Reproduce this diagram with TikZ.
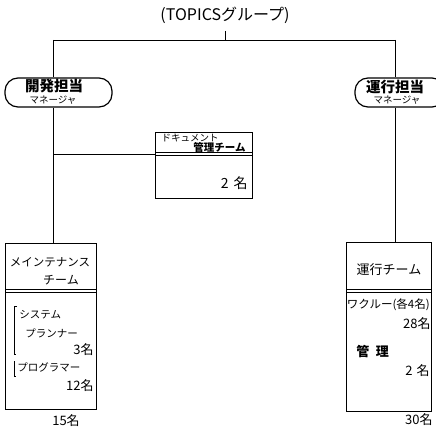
\documentclass[tikz,border=0pt]{standalone}
\usepackage{fontspec}
\setmainfont{Noto Sans CJK JP}
\begin{document}
\begin{tikzpicture}[x=1pt,y=-1pt,line width=0.9pt,
  txt/.style={inner sep=0pt,font=\fontsize{10.5}{12}\selectfont},
  big/.style={inner sep=0pt,font=\fontsize{13}{15}\selectfont},
  pilltop/.style={inner sep=0pt,font=\fontsize{14.5}{15}\selectfont\bfseries},
  pillbot/.style={inner sep=0pt,font=\fontsize{9.5}{10}\selectfont},
  pill/.style={draw,line width=1.2pt,rounded corners=13pt,inner sep=0pt},
  boxx/.style={draw,line width=1.1pt,inner sep=0pt,anchor=north west}]
\useasboundingbox (0,0) rectangle (436,430);
% title
\node[inner sep=0pt,font=\fontsize{16}{18}\selectfont] (title) at (225,15) {(TOPICSグループ)};
\coordinate (tb) at (225,31);
\coordinate (tj) at (225,40);
\coordinate (lj) at (53,40);
\coordinate (rj) at (395,40);
\draw (tb) -- (tj);
\draw (lj) -- (rj);
% pills
\node[pill,minimum width=107pt,minimum height=29pt] (dev) at (58.5,92.5) {};
\node[pilltop] (devt1) at (54,86.5) {開発担当};
\node[pillbot] (devt2) at (53,100.5) {マネージャ};
\node[pill,minimum width=90pt,minimum height=29pt] (ops) at (400,92.5) {};
\node[pilltop] (opst1) at (395,86.5) {運行担当};
\node[pillbot] (opst2) at (397,100.5) {マネージャ};
\draw (lj) -- (lj |- dev.north);
\draw (rj) -- (rj |- ops.north);
% document team box
\node[boxx,minimum width=97pt,minimum height=66pt] (doc) at (155,132) {};
\coordinate (dl1) at (155,152.5);
\coordinate (dr1) at (252,152.5);
\coordinate (dl2) at (155,155.5);
\coordinate (dr2) at (252,155.5);
\draw[line width=0.7pt] (dl1) -- (dr1);
\draw[line width=0.7pt] (dl2) -- (dr2);
\node[inner sep=0pt,font=\fontsize{9.5}{10}\selectfont] (doct1) at (190,137.8) {ドキュメント};
\node[inner sep=0pt,font=\fontsize{10.5}{11}\selectfont\bfseries,anchor=east] (doct2) at (246,147) {管理チーム};
\node[inner sep=0pt,font=\fontsize{14}{16}\selectfont,anchor=east] (docn) at (248,183) {2\hspace{0.35em}名};
% left box
\node[boxx,minimum width=91pt,minimum height=166pt] (mt) at (5,243) {};
\coordinate (ml1) at (5,289);
\coordinate (mr1) at (96,289);
\coordinate (ml2) at (5,292);
\coordinate (mr2) at (96,292);
\draw[line width=0.7pt] (ml1) -- (mr1);
\draw[line width=0.7pt] (ml2) -- (mr2);
\node[inner sep=0pt,font=\fontsize{11.5}{13}\selectfont] (mt1) at (50,262) {メインテナンス};
\node[inner sep=0pt,font=\fontsize{12}{13}\selectfont] (mt2) at (61,280) {チーム};
\node[txt,anchor=west] (m1) at (19,315) {システム};
\node[txt,anchor=west] (m2) at (25,333) {プランナー};
\node[big,anchor=east] (m3) at (94,350) {3名};
\node[txt,anchor=west] (m4) at (17,367) {プログラマー};
\node[big,anchor=east] (m5) at (94,386) {12名};
\coordinate (b1a) at (17,306);
\coordinate (b1b) at (14,306);
\coordinate (b1c) at (14,354);
\coordinate (b1d) at (16,354);
\draw[line width=0.7pt] (b1a) -- (b1b) -- (b1c) -- (b1d);
\coordinate (b2a) at (14,361);
\coordinate (b2b) at (14,376);
\coordinate (b2c) at (16,376);
\draw[line width=0.7pt] (b2a) -- (b2b) -- (b2c);
\node[big] (mtot) at (66,421) {15名};
% right box
\node[boxx,minimum width=85pt,minimum height=169pt] (rt) at (346,242) {};
\coordinate (rl1) at (346,289);
\coordinate (rr1) at (431,289);
\coordinate (rl2) at (346,292);
\coordinate (rr2) at (431,292);
\draw[line width=0.7pt] (rl1) -- (rr1);
\draw[line width=0.7pt] (rl2) -- (rr2);
\node[big] (rt1) at (389,270) {運行チーム};
\node[inner sep=0pt,anchor=west,font=\fontsize{11.5}{13}\selectfont] (r1) at (346.5,305) {ワクルー(各4名)};
\node[big,anchor=east] (r2) at (431,324) {28名};
\node[big,anchor=west,font=\fontsize{13}{15}\selectfont\bfseries] (r3) at (356,352) {管\hspace{0.5em}理};
\node[big,anchor=east] (r4) at (430,371) {2\hspace{0.3em}名};
\node[big,anchor=east] (rtot) at (433,420) {30名};
% connectors
\draw (dev.south -| lj) -- (mt.north -| lj);
\coordinate (jd) at (53,154);
\draw (jd) -- (jd -| doc.west);
\draw (ops.south -| rj) -- (rt.north -| rj);
\end{tikzpicture}
\end{document}
